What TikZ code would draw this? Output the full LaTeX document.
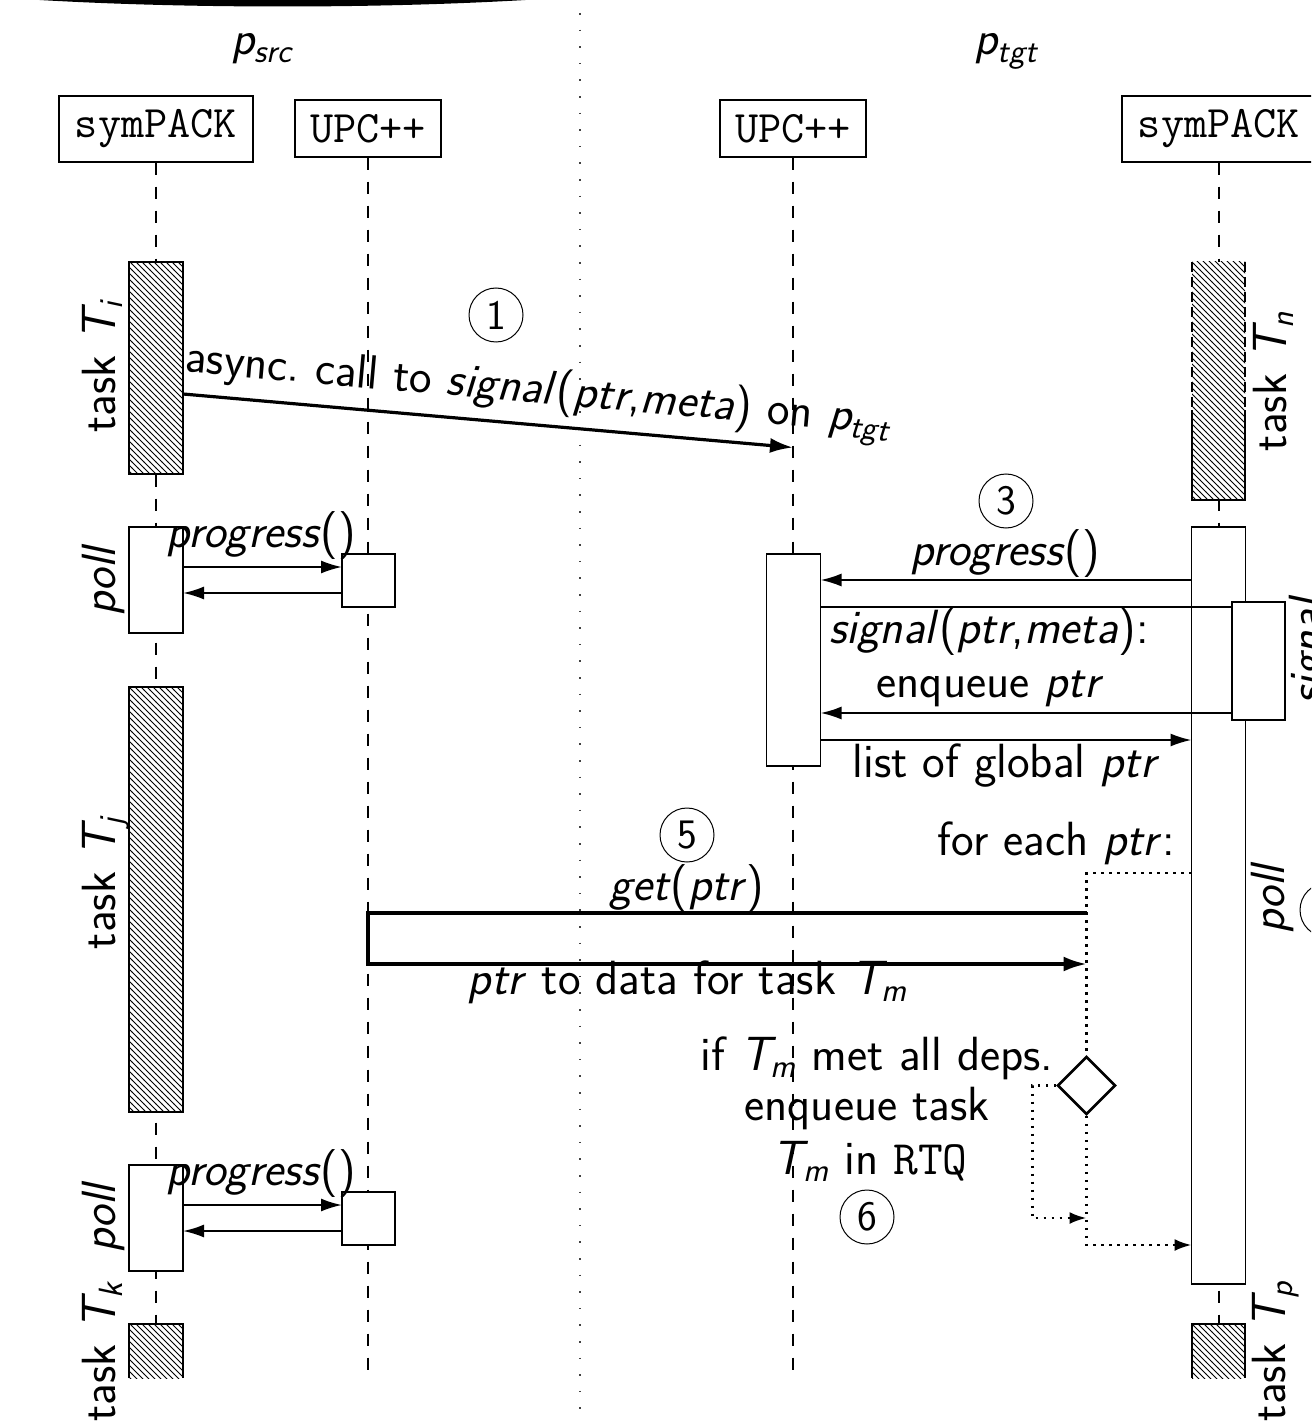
\documentclass[tikz,border=0pt]{standalone}
\usepackage{fontspec}
\usetikzlibrary{arrows.meta,patterns,shapes.geometric}
\newcommand{\mysub}[2]{{\itshape #1}\textsubscript{\itshape #2}}
\begin{document}
\begin{tikzpicture}[x=0.5pt,y=-0.5pt,
  txt/.style={font=\sffamily\fontsize{24}{28}\selectfont, inner sep=0pt},
  head/.style={draw, line width=0.65pt, font=\ttfamily\fontsize{22.5}{26}\selectfont, inner sep=0pt},
  bar/.style={draw, line width=0.65pt, fill=white, minimum width=27pt, inner sep=0pt, outer sep=0pt},
  hatch/.style={fill=white, postaction={pattern=north west lines}},
  hbar/.style={draw, line width=0.65pt, hatch, minimum width=27pt, inner sep=0pt, outer sep=0pt},
  life/.style={line width=0.6pt, dash pattern=on 6pt off 6pt},
  sepline/.style={line width=0.8pt, black!75, dash pattern=on 0.8pt off 7.5pt},
  msg/.style={line width=1pt, -{Latex[length=10.5pt,width=6.5pt]}},
  bigmsg/.style={line width=1.6pt, -{Latex[length=11.5pt,width=7.5pt]}},
  flow/.style={line width=1.3pt, dash pattern=on 1.3pt off 2.7pt},
  flowarr/.style={flow, -{Latex[length=8.5pt,width=6pt]}},
  num/.style={circle, draw, line width=0.5pt, minimum size=27pt, inner sep=0pt, font=\sffamily\fontsize{21}{24}\selectfont},
  rot/.style={txt, rotate=90, anchor=base},
  edge/.style={line width=0.65pt},
]
\useasboundingbox (0,0) rectangle (1311,1422);
\clip (0,0) rectangle (1311,1422);

% top band
\fill (23,-1) .. controls (180,9) and (385,9) .. (542,-1) -- cycle;

% separator
\draw[sepline] (580,13) -- (580,1422);

% process labels
\node[txt, anchor=base] (psrc) at (262,55) {\mysub{p}{src}};
\node[txt, anchor=base] (ptgt) at (1006,55) {\mysub{p}{tgt}};

% heads
\node[head, minimum width=97pt, minimum height=33pt] (sA) at (156,129) {symPACK};
\node[head, minimum width=73pt, minimum height=28.5pt] (uA) at (368,128.5) {UPC++};
\node[head, minimum width=73pt, minimum height=28.5pt] (uB) at (793,128.5) {UPC++};
\node[head, minimum width=97pt, minimum height=33pt] (sB) at (1219,129) {symPACK};

\coordinate (bot) at (0,1378);
\draw[life] (sA.south) -- (sA.south |- bot);
\draw[life] (uA.south) -- (uA.south |- bot);
\draw[life] (uB.south) -- (uB.south |- bot);
\draw[life] (sB.south) -- (sB.south |- bot);

% left symPACK bars
\node[hbar, minimum height=106pt] (Ti) at (156,368) {};
\node[bar, minimum height=53pt] (pA1) at (156,580) {};
\node[hbar, minimum height=212.5pt] (Tj) at (156,899.5) {};
\node[bar, minimum height=53pt] (pA2) at (156,1218) {};
\fill[hatch] (129,1324) rectangle (183,1378);
\draw[edge] (129,1378) -- (129,1324) -- (183,1324) -- (183,1378);

% left UPC++ boxes
\node[bar, minimum width=26.5pt, minimum height=26.5pt] (uA1) at (368.5,580.5) {};
\node[bar, minimum width=26.5pt, minimum height=26.5pt] (uA2) at (368.5,1218.5) {};

% right UPC++ bar
\node[bar, minimum height=106pt] (uBb) at (793.5,660) {};

% right symPACK bars
\fill[hatch] (1192,262) rectangle (1245,500);
\draw[edge, dash pattern=on 5pt off 2.5pt] (1192,262) -- (1192,410) (1245,262) -- (1245,410);
\draw[edge] (1192,410) -- (1192,500) -- (1245,500) -- (1245,410);
\node[bar, minimum height=378.5pt] (pB) at (1218.5,905.5) {};
\node[bar, minimum width=26.5pt, minimum height=59pt] (sg) at (1258.5,661) {};
\fill[hatch] (1192,1324) rectangle (1245,1378);
\draw[edge] (1192,1378) -- (1192,1324) -- (1245,1324) -- (1245,1378);

% rotated labels
\node[rot] at (115,367) {task \mysub{T}{i}};
\node[rot] at (115,580) {\textit{poll}};
\node[rot] at (115,883) {task \mysub{T}{j}};
\node[rot] at (115,1217) {\textit{poll}};
\node[rot] at (115,1352) {task \mysub{T}{k}};
\node[rot] at (1286,381) {task \mysub{T}{n}};
\node[rot] at (1284,898) {\textit{poll}};
\node[rot] at (1322,650) {\textit{signal}};
\node[rot] at (1285,1351) {task \mysub{T}{p}};

% async call
\draw[bigmsg] (Ti.east |- 0,394) -- (uB.south |- 0,447.5);
\node[txt, anchor=base, rotate=-5.03] at (537,403) {async.\ call to \textit{signal}(\textit{ptr},\textit{meta}) on \mysub{p}{tgt}};
\node[num] (c1) at (496,315) {1};

% left progress calls
\draw[msg] (pA1.east |- 0,567) -- (uA1.west |- 0,567);
\draw[msg] (uA1.west |- 0,593) -- (pA1.east |- 0,593);
\node[txt, anchor=base] at (261,547) {\textit{progress}()};
\draw[msg] (pA2.east |- 0,1205) -- (uA2.west |- 0,1205);
\draw[msg] (uA2.west |- 0,1231) -- (pA2.east |- 0,1231);
\node[txt, anchor=base] at (261,1185) {\textit{progress}()};

% right progress / signal
\node[num] (c3) at (1006,501) {3};
\draw[msg] (pB.west |- 0,580) -- (uBb.east |- 0,580);
\node[txt, anchor=base] at (1005,565) {\textit{progress}()};
\draw[line width=1pt] (uBb.east |- 0,607) -- (sg.west |- 0,607);
\node[txt, anchor=base] at (989,643) {\textit{signal}(\textit{ptr},\textit{meta}):};
\node[txt, anchor=base] at (990,697) {enqueue \textit{ptr}};
\draw[msg] (sg.west |- 0,713) -- (uBb.east |- 0,713);
\draw[msg] (uBb.east |- 0,740) -- (pB.west |- 0,740);
\node[txt, anchor=base] at (1006,777) {list of global \textit{ptr}};

% for each ptr
\node[txt, anchor=base east] at (1175,855) {for each \textit{ptr}:};
\node[diamond, draw, line width=1.3pt, minimum width=29pt, minimum height=29pt, inner sep=0pt] (dia) at (1086.5,1085.5) {};
\draw[flow] (pB.west |- 0,873) -- (dia.north |- 0,873) -- (dia.north);

% get
\node[num] (c5) at (687,835) {5};
\node[txt, anchor=base] at (687,900) {\textit{get}(\textit{ptr})};
\draw[bigmsg] (dia.north |- 0,913) -- (uA.south |- 0,913) -- (uA.south |- 0,964) -- (dia.north |- 0,964);
\node[txt, anchor=base] at (688,994) {\textit{ptr} to data for task \mysub{T}{m}};

% decision
\draw[flowarr] (dia.west) -- ++(-24,0) |- (dia.south |- 0,1218);
\draw[flowarr] (dia.south) |- (pB.west |- 0,1245);
\node[txt, anchor=base] at (877,1070) {if \mysub{T}{m} met all deps.};
\node[txt, anchor=base] at (867,1120) {enqueue task};
\node[txt, anchor=base] at (870,1174) {\mysub{T}{m} in \texttt{RTQ}};
\node[num] (c6) at (867,1217) {6};

% clipped circle at right edge
\node[num] (c4) at (1327,910) {};
\end{tikzpicture}
\end{document}
